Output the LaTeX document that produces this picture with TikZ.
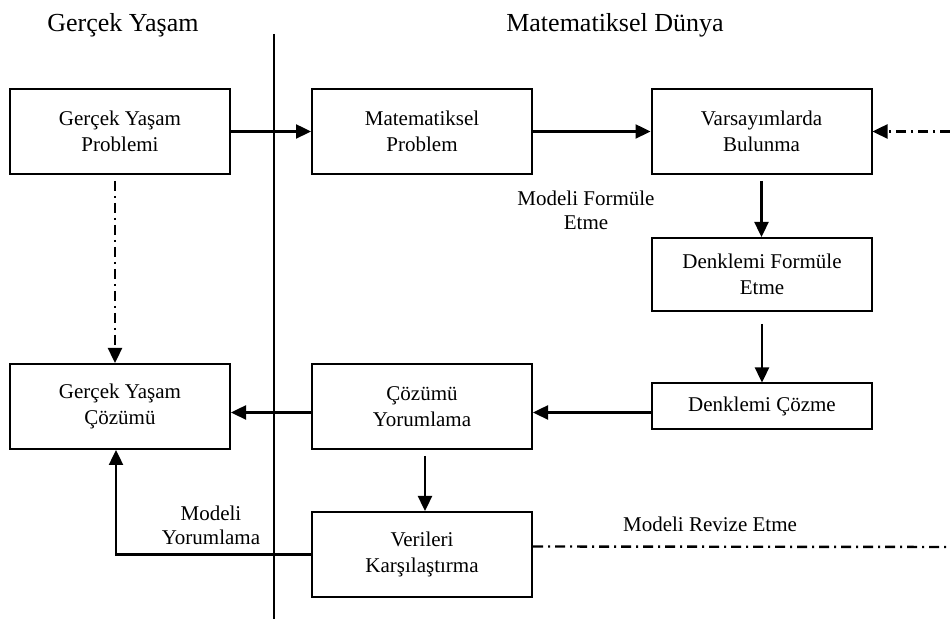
\documentclass[tikz,border=0pt]{standalone}
\usepackage{fontspec}
\setmainfont{Liberation Serif}
\usetikzlibrary{arrows.meta}

\tikzset{
  kutu/.style={draw, line width=1pt, minimum width=110pt, minimum height=42.5pt,
    align=center, inner sep=2pt, font=\fontsize{10.5}{13}\selectfont},
  etiket/.style={align=center, inner sep=0pt, font=\fontsize{10.5}{12}\selectfont},
  baslik/.style={inner sep=0pt, font=\fontsize{13}{15}\selectfont},
  ok/.style={line width=1.2pt, -{Triangle[length=7.5pt,width=7pt]}},
  noktali/.style={line width=1.2pt, dash pattern=on 5pt off 2.5pt on 1pt off 2.5pt},
}

\begin{document}
\begin{tikzpicture}[x=0.5pt, y=-0.5pt]
        \useasboundingbox (0,0) rectangle (950,619);
        % Basliklar
        \node[baslik, anchor=base] (gercek) at (123,32) {Gerçek Yaşam};
        \node[baslik, anchor=base] (matdunya) at (615,32) {Matematiksel Dünya};
        % Ayirici cizgi
        \coordinate (ust) at (274,34);
        \coordinate (alt) at (274,619);
        \draw[line width=1pt] (ust) -- (alt);

        % Kutular
        \node[kutu] (problem) at (120,131.5) {Gerçek Yaşam\\Problemi};
        \node[kutu] (matprob) at (422,131.5) {Matematiksel\\Problem};
        \node[kutu] (varsayim) at (761.5,131.5) {Varsayımlarda\\Bulunma};
        \node[kutu, minimum height=36.5pt] (denkform) at (762,274.5) {Denklemi Formüle\\Etme};
        \node[kutu, minimum height=23pt] (cozme) at (762,406.5) {Denklemi Çözme};
        \node[kutu] (yorum) at (422,406.5) {Çözümü\\Yorumlama};
        \node[kutu] (cozum) at (120,406.5) {Gerçek Yaşam\\Çözümü};
        \node[kutu] (veri) at (422,554.5) {Verileri\\Karşılaştırma};

        % Etiketler
        \node[etiket] (formule) at (586,210) {Modeli Formüle\\Etme};
        \node[etiket] (yorumla) at (211,525) {Modeli\\Yorumlama};
        \node[etiket] (revizeet) at (710,524) {Modeli Revize Etme};

        % Disaridan gelen ve giden uclar
        \coordinate (dis) at (950,131.5);
        \coordinate (revize) at (950,547);

        % Oklar
        \draw[ok] (problem) -- (matprob);
        \draw[ok] (matprob) -- (varsayim);
        \draw[ok, noktali] (dis) -- (varsayim);
        \draw[ok, shorten <=3pt] (varsayim.south) -- (varsayim.south |- denkform.north);
        \draw[ok, shorten <=6pt] (denkform) -- (cozme);
        \draw[ok] ([yshift=-3pt]cozme.west) -- ([yshift=-3pt]yorum.east);
        \draw[ok] ([yshift=-3pt]yorum.west) -- ([yshift=-3pt]cozum.east);
        \draw[ok, shorten <=3pt] ([xshift=1.5pt]yorum.south) -- ([xshift=1.5pt]veri.north);
        \draw[ok, noktali, shorten <=3pt] ([xshift=-2.5pt]problem.south) -- ([xshift=-2.5pt]cozum.north);
        \draw[ok] (veri.west) -| ([xshift=-2pt]cozum.south);
        \draw[noktali] ([yshift=4pt]veri.east) -- (revize);
\end{tikzpicture}
\end{document}
